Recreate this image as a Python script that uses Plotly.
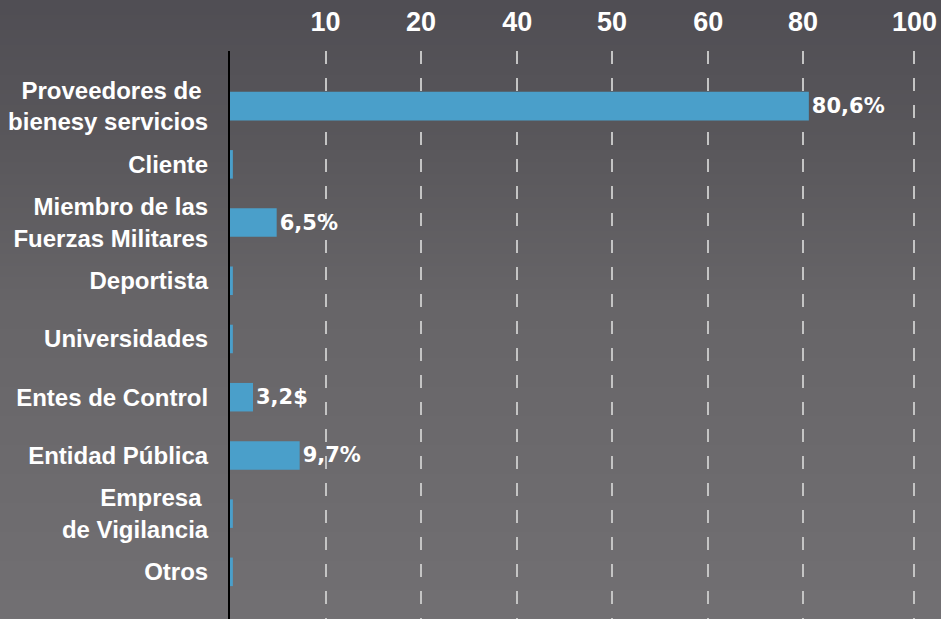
import base64
import struct
import zlib

import numpy as np
import plotly.graph_objects as go

# ---------------- data ----------------
categories = [
    "Proveedores de\u00a0<br>bienesy servicios",
    "Cliente",
    "Miembro de las<br>Fuerzas Militares",
    "Deportista",
    "Universidades",
    "Entes de Control",
    "Entidad Pública",
    "Empresa\u00a0<br>de Vigilancia",
    "Otros",
]
values = [80.6, 0.4, 6.5, 0.4, 0.4, 3.2, 9.7, 0.4, 0.4]
value_labels = ["80,6%", "", "6,5%", "", "", "3,2$", "9,7%", "", ""]
tick_labels = ["10", "20", "40", "50", "60", "80", "100"]

# ---------------- background gradient (decoration) ----------------
W, H = 941, 619


def gradient_png(height):
    stops_y = [0, 150, 300, height - 1]
    stops_c = [(80, 78, 84), (90, 88, 92), (103, 101, 104), (114, 112, 115)]
    ys = np.arange(height)
    chans = [np.interp(ys, stops_y, [c[i] for c in stops_c]).astype(np.uint8) for i in range(3)]
    raw = b"".join(b"\x00" + bytes([chans[0][y], chans[1][y], chans[2][y]]) * 2 for y in range(height))

    def chunk(tag, data):
        c = struct.pack(">I", len(data)) + tag + data
        return c + struct.pack(">I", zlib.crc32(tag + data) & 0xFFFFFFFF)

    png = b"\x89PNG\r\n\x1a\n"
    png += chunk(b"IHDR", struct.pack(">IIBBBBB", 2, height, 8, 2, 0, 0, 0))
    png += chunk(b"IDAT", zlib.compress(raw, 9))
    png += chunk(b"IEND", b"")
    return "data:image/png;base64," + base64.b64encode(png).decode()


# ---------------- layout geometry ----------------
ML, MT = 230, 51
PW, PH = W - ML, H - MT
x_max = 99.0
tick_positions = [13.3, 26.6, 40.0, 53.2, 66.6, 79.8, 95.3]

fig = go.Figure(
    go.Bar(
        x=values,
        y=categories,
        orientation="h",
        marker=dict(color="#4a9fca", line=dict(width=0)),
        text=value_labels,
        textposition="outside",
        textfont=dict(family="DejaVu Sans", size=21, color="white", weight="bold"),
        cliponaxis=False,
        hoverinfo="skip",
        width=0.49,
    )
)

fig.update_layout(
    width=W,
    height=H,
    margin=dict(l=ML, r=0, t=MT, b=0, pad=0),
    paper_bgcolor="#5f5d61",
    plot_bgcolor="rgba(0,0,0,0)",
    showlegend=False,
    images=[
        dict(
            source=gradient_png(H),
            xref="paper",
            yref="paper",
            x=-ML / PW,
            y=1 + MT / PH,
            sizex=W / PW,
            sizey=H / PH,
            sizing="stretch",
            xanchor="left",
            yanchor="top",
            layer="below",
        )
    ],
    xaxis=dict(
        side="top",
        range=[0, x_max],
        tickvals=tick_positions,
        ticktext=tick_labels,
        tickfont=dict(family="Liberation Sans Narrow, Liberation Sans, Arial", size=27,
                      color="white", weight="bold"),
        ticks="outside",
        ticklen=8,
        tickcolor="rgba(0,0,0,0)",
        showgrid=True,
        gridcolor="#c4c4c4",
        gridwidth=2,
        griddash="13px,14px",
        zeroline=False,
        showline=False,
        fixedrange=True,
    ),
    yaxis=dict(
        type="category",
        categoryorder="array",
        categoryarray=categories,
        range=[8.81, -0.947],
        tickfont=dict(family="Liberation Sans, Arial", size=24, color="white", weight="bold"),
        ticks="outside",
        ticklen=15,
        tickcolor="rgba(0,0,0,0)",
        showgrid=False,
        zeroline=False,
        showline=True,
        linecolor="#000000",
        linewidth=2,
        fixedrange=True,
    ),
)

fig.write_html(
    "out.html",
    config={"displayModeBar": False},
    post_script="document.body.style.margin='0';document.body.style.overflow='hidden';",
)
